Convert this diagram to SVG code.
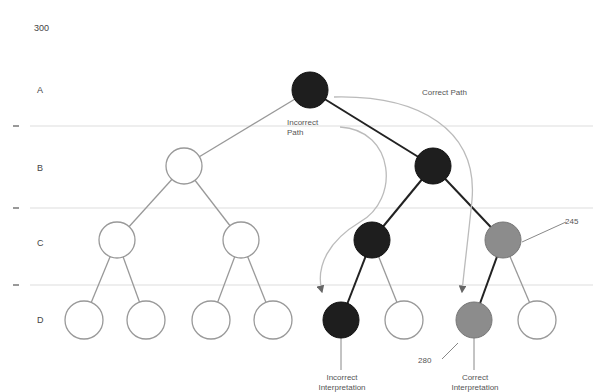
<svg xmlns="http://www.w3.org/2000/svg" width="593" height="392" viewBox="0 0 593 392">
<style>
text{font-family:"Liberation Sans",Arial,sans-serif;fill:#555;font-size:8px}
.lvl{font-size:9px;fill:#444}
.sep{stroke:#ddd;stroke-width:1}
.tick{stroke:#777;stroke-width:1.5}
.e{stroke:#999;stroke-width:1.3}
.ed{stroke:#222;stroke-width:2}
.w{fill:#fff;stroke:#999;stroke-width:1.3}
.d{fill:#1e1e1e;stroke:#111;stroke-width:1}
.g{fill:#8c8c8c;stroke:#777;stroke-width:1}
.cv{fill:none;stroke:#bbb;stroke-width:1.3}
.ld{stroke:#888;stroke-width:1}
</style>
<defs>
<marker id="ah" markerWidth="6" markerHeight="6" refX="5" refY="3" orient="auto"><path d="M0,0 L6,3 L0,6 z" fill="#666"/></marker>
</defs>
<text x="34" y="31" class="lvl">300</text>
<text x="37" y="93" class="lvl">A</text>
<text x="37" y="171" class="lvl">B</text>
<text x="37" y="246" class="lvl">C</text>
<text x="37" y="323" class="lvl">D</text>
<g id="separators">
<line class="sep" x1="30" y1="126" x2="593" y2="126"/>
<line class="sep" x1="30" y1="208" x2="593" y2="208"/>
<line class="sep" x1="30" y1="285" x2="593" y2="285"/>
<line class="tick" x1="13" y1="126" x2="19" y2="126"/>
<line class="tick" x1="13" y1="208" x2="19" y2="208"/>
<line class="tick" x1="13" y1="285" x2="19" y2="285"/>
</g>
<g id="connectors">
<line class="e" x1="310" y1="90" x2="184" y2="166"/>
<line class="ed" x1="310" y1="90" x2="433" y2="166"/>
<line class="e" x1="184" y1="166" x2="117" y2="240"/>
<line class="e" x1="184" y1="166" x2="241" y2="240"/>
<line class="ed" x1="433" y1="166" x2="372" y2="240"/>
<line class="ed" x1="433" y1="166" x2="503" y2="240"/>
<line class="e" x1="117" y1="240" x2="84" y2="320"/>
<line class="e" x1="117" y1="240" x2="146" y2="320"/>
<line class="e" x1="241" y1="240" x2="211" y2="320"/>
<line class="e" x1="241" y1="240" x2="273" y2="320"/>
<line class="ed" x1="372" y1="240" x2="341" y2="320"/>
<line class="e" x1="372" y1="240" x2="404" y2="320"/>
<line class="ed" x1="503" y1="240" x2="474" y2="320"/>
<line class="e" x1="503" y1="240" x2="537" y2="320"/>
<path class="cv" d="M334,97 C420,95 478,130 472,200 C468,240 464,270 462,292" marker-end="url(#ah)"/>
<path class="cv" d="M340,127 C395,130 400,200 360,222 C330,240 315,265 322,292" marker-end="url(#ah)"/>
<line class="ld" x1="341" y1="338" x2="341" y2="370"/>
<line class="ld" x1="474" y1="338" x2="474" y2="370"/>
<line class="ld" x1="442" y1="359" x2="458" y2="343"/>
<line class="ld" x1="566" y1="222" x2="522" y2="242"/>
</g>
<g id="nA"><circle class="d" cx="310" cy="90" r="18"/></g>
<g id="nB1"><circle class="w" cx="184" cy="166" r="18"/></g>
<g id="nB2"><circle class="d" cx="433" cy="166" r="18"/></g>
<g id="nC1"><circle class="w" cx="117" cy="240" r="18"/></g>
<g id="nC2"><circle class="w" cx="241" cy="240" r="18"/></g>
<g id="nC3"><circle class="d" cx="372" cy="240" r="18"/></g>
<g id="nC4"><circle class="g" cx="503" cy="240" r="18"/></g>
<g id="nD1"><circle class="w" cx="84" cy="320" r="19"/></g>
<g id="nD2"><circle class="w" cx="146" cy="320" r="19"/></g>
<g id="nD3"><circle class="w" cx="211" cy="320" r="19"/></g>
<g id="nD4"><circle class="w" cx="273" cy="320" r="19"/></g>
<g id="nD5"><circle class="d" cx="341" cy="320" r="18"/></g>
<g id="nD6"><circle class="w" cx="404" cy="320" r="19"/></g>
<g id="nD7"><circle class="g" cx="474" cy="320" r="18"/></g>
<g id="nD8"><circle class="w" cx="537" cy="320" r="19"/></g>
<g id="labels">
<text x="422" y="95">Correct Path</text>
<text x="287" y="125">Incorrect</text>
<text x="287" y="135">Path</text>
<text x="342" y="380" text-anchor="middle">Incorrect</text>
<text x="342" y="390" text-anchor="middle">Interpretation</text>
<text x="475" y="380" text-anchor="middle">Correct</text>
<text x="475" y="390" text-anchor="middle">Interpretation</text>
<text x="418" y="363">280</text>
<text x="565" y="224">245</text>
</g>
</svg>
